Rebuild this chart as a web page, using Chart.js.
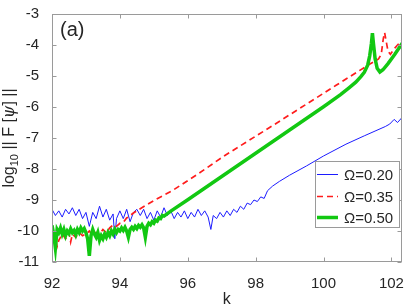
<!DOCTYPE html>
<html>
<head>
<meta charset="utf-8">
<script src="https://cdn.jsdelivr.net/npm/chart.js"></script>
<style>
  html, body { margin: 0; padding: 0; background: #fff; }
</style>
</head>
<body>
<canvas id="grafico" width="409" height="305"></canvas>
<script>
const contenedor = document.getElementById('grafico');

// Omega = 0.20 (azul)
const kAzul = [92.0, 92.1, 92.2, 92.3, 92.4, 92.5, 92.6, 92.7, 92.8, 92.9,
    93.0, 93.1, 93.2, 93.3, 93.4, 93.5, 93.6, 93.7, 93.8, 93.85, 93.9,
    94.0, 94.1, 94.2, 94.3, 94.4, 94.5, 94.6, 94.7, 94.8, 94.9,
    95.0, 95.1, 95.2, 95.3, 95.4, 95.5, 95.6, 95.7, 95.8, 95.9,
    96.0, 96.1, 96.2, 96.3, 96.4, 96.5, 96.6, 96.68, 96.75, 96.85, 96.95,
    97.05, 97.15, 97.25, 97.35, 97.45, 97.55, 97.65, 97.75, 97.85, 97.95,
    98.05, 98.15, 98.25, 98.35, 98.5, 98.7, 99.0, 99.5, 100.0, 100.66, 101.2, 101.82, 101.95, 102.08, 102.18, 102.32];
const vAzul = [-9.3, -9.5, -9.35, -9.55, -9.3, -9.45, -9.25, -9.5, -9.3, -9.6,
    -9.4, -9.85, -9.4, -9.6, -9.2, -9.55, -9.3, -9.65, -9.45, -10.25, -9.6,
    -9.35, -9.6, -9.3, -9.7, -9.4, -9.3, -9.5, -9.3, -9.6, -9.4,
    -9.65, -9.35, -9.55, -9.25, -9.5, -9.35, -9.6, -9.4, -9.55, -9.35,
    -9.6, -9.4, -9.55, -9.3, -9.5, -9.35, -9.55, -9.95, -9.5, -9.6, -9.4,
    -9.55, -9.35, -9.5, -9.3, -9.4, -9.2, -9.3, -9.1, -9.15, -9.0,
    -9.05, -8.9, -8.95, -8.7, -8.55, -8.4, -8.2, -7.9, -7.58, -7.2, -6.93, -6.63, -6.55, -6.4, -6.5, -6.33];

// Omega = 0.35 (rojo)
const kRojo = [92.0, 92.05, 92.1, 92.15, 92.2, 92.3, 92.4, 92.5, 92.55, 92.6, 92.7, 92.8, 92.9,
    93.0, 93.1, 93.2, 93.3, 93.4, 93.5, 93.6, 93.7, 93.8, 93.9,
    94.0, 94.1, 94.2, 94.3, 94.4, 94.5, 94.6, 95.08, 95.57, 96.3, 97.07, 98.53, 100.37,
    101.34, 101.62, 101.7, 101.76, 101.8, 101.84, 101.9, 101.97, 102.1, 102.36];
const vRojo = [-10.2, -9.95, -10.2, -10.5, -10.3, -10.1, -10.25, -10.05, -10.35, -10.1, -10.2, -10.05, -10.15,
    -10.1, -10.0, -10.15, -10.05, -10.1, -9.95, -10.05, -9.9, -9.8, -9.85,
    -9.75, -9.72, -9.58, -9.5, -9.42, -9.35, -9.28, -8.97, -8.68, -8.16, -7.58, -6.58, -5.3,
    -4.63, -4.45, -4.3, -3.8, -3.6, -3.85, -4.2, -4.3, -4.1, -3.78];

// Omega = 0.50 (verde)
const kVerde = [92.0, 92.05, 92.1, 92.15, 92.2, 92.25, 92.3, 92.35, 92.4, 92.45,
    92.5, 92.55, 92.6, 92.65, 92.7, 92.75, 92.8, 92.85, 92.9, 92.95,
    93.0, 93.05, 93.1, 93.15, 93.2, 93.25, 93.3, 93.35, 93.4, 93.45,
    93.5, 93.55, 93.6, 93.65, 93.7, 93.75, 93.8, 93.85, 93.9, 93.95,
    94.0, 94.05, 94.1, 94.15, 94.2, 94.25, 94.3, 94.35, 94.4, 94.45,
    94.5, 94.55, 94.6, 94.65, 94.7, 94.75, 94.8, 94.85, 94.9, 94.95,
    95.0, 95.05, 95.1, 95.15, 95.2, 95.25, 95.3,
    95.5, 96.0, 97.0, 98.0, 99.0, 100.0, 100.5, 100.75, 100.95, 101.1, 101.2,
    101.3, 101.36, 101.41, 101.44, 101.47, 101.52, 101.58, 101.66, 101.75, 101.9, 102.1, 102.36];
const vVerde = [-9.82, -10.1, -10.55, -9.95, -10.05, -9.9, -10.1, -9.95, -10.15, -10.0,
    -10.08, -9.93, -10.05, -9.98, -10.12, -9.95, -10.05, -9.9, -10.0, -9.92,
    -10.05, -10.25, -10.8, -10.15, -9.95, -10.1, -10.2, -10.05, -10.3, -10.15,
    -10.25, -10.1, -10.2, -10.05, -10.15, -10.0, -10.1, -9.95, -10.05, -9.95,
    -10.0, -9.9, -9.98, -9.88, -10.0, -10.2, -9.95, -9.88, -9.95, -9.85,
    -9.92, -9.82, -9.88, -9.8, -9.9, -10.2, -9.85, -9.75, -9.8, -9.7,
    -9.75, -9.65, -9.68, -9.58, -9.6, -9.5, -9.52,
    -9.36, -8.99, -8.24, -7.49, -6.74, -5.99, -5.6, -5.38, -5.2, -5.02, -4.88,
    -4.65, -4.35, -3.95, -3.62, -3.95, -4.45, -4.75, -4.87, -4.8, -4.6, -4.3, -3.88];

const etiquetas = ['Ω=0.20', 'Ω=0.35', 'Ω=0.50'];
const ticksK = [92, 94, 96, 98, 100, 102];
const ticksV = [-11, -10, -9, -8, -7, -6, -5, -4, -3];

const fuente = '"Liberation Sans", Arial, Helvetica, sans-serif';
const colorEje = '#9a9a9a';
const colorTexto = '#262626';

const puntos = (ks, vs) => ks.map((k, i) => ({ x: k, y: vs[i] }));

// marco, ticks hacia dentro, titulo del eje y, (a) y leyenda
const marco = {
    id: 'marco',
    afterDraw(chart) {
        const { ctx, chartArea: a } = chart;
        const x = chart.scales.x, y = chart.scales.y;
        const L = Math.round(a.left) + 0.5, R = Math.round(a.right) - 0.5;
        const T = Math.round(a.top) + 0.5, B = Math.round(a.bottom) - 0.5;
        ctx.save();
        ctx.strokeStyle = colorEje;
        ctx.lineWidth = 1;
        ctx.strokeRect(L, T, R - L, B - T);
        ctx.beginPath();
        ticksK.forEach(t => {
            const px = Math.round(x.getPixelForValue(t)) + 0.5;
            ctx.moveTo(px, B); ctx.lineTo(px, B - 4);
            ctx.moveTo(px, T); ctx.lineTo(px, T + 4);
        });
        ticksV.forEach(t => {
            const py = Math.round(y.getPixelForValue(t)) + 0.5;
            ctx.moveTo(L, py); ctx.lineTo(L + 4, py);
            ctx.moveTo(R, py); ctx.lineTo(R - 4, py);
        });
        ctx.stroke();

        // (a)
        ctx.fillStyle = colorTexto;
        ctx.font = '20px ' + fuente;
        ctx.textAlign = 'left';
        ctx.textBaseline = 'alphabetic';
        ctx.fillText('(a)', 60, 36);

        // k
        ctx.font = '16px ' + fuente;
        ctx.textAlign = 'center';
        ctx.fillText('k', (a.left + a.right) / 2, 304);

        // log10 || F [psi] ||
        const partes = [
            { t: 'log', f: '16px ' + fuente, dy: 0 },
            { t: '10', f: '11px ' + fuente, dy: 4 },
            { t: ' || F [', f: '16px ' + fuente, dy: 0 },
            { t: 'ψ', f: 'italic 16px "DejaVu Serif", serif', dy: 0 },
            { t: '] ||', f: '16px ' + fuente, dy: 0 }
        ];
        ctx.save();
        ctx.translate(14, (a.top + a.bottom) / 2);
        ctx.rotate(-Math.PI / 2);
        ctx.textAlign = 'left';
        let total = 0;
        partes.forEach(p => { ctx.font = p.f; p.w = ctx.measureText(p.t).width; total += p.w; });
        let cx = -total / 2;
        partes.forEach(p => { ctx.font = p.f; ctx.fillText(p.t, cx, p.dy); cx += p.w; });
        ctx.restore();

        // leyenda
        const lx = 315.5, ly = 161.5, lw = 84, lh = 66;
        ctx.fillStyle = '#fff';
        ctx.fillRect(lx, ly, lw, lh);
        ctx.strokeStyle = colorEje;
        ctx.strokeRect(lx, ly, lw, lh);
        const filas = [174.5, 196.5, 217.5];
        chart.data.datasets.forEach((ds, i) => {
            ctx.save();
            ctx.strokeStyle = ds.borderColor;
            ctx.lineWidth = ds.borderWidth;
            ctx.setLineDash(ds.borderDash || []);
            ctx.beginPath();
            ctx.moveTo(317, filas[i]);
            ctx.lineTo(338, filas[i]);
            ctx.stroke();
            ctx.restore();
            ctx.fillStyle = colorTexto;
            ctx.font = '15px ' + fuente;
            ctx.textAlign = 'left';
            ctx.textBaseline = 'middle';
            ctx.fillText(etiquetas[i], 344, filas[i] + 1);
        });
        ctx.restore();
    }
};

const miGrafico = new Chart(contenedor, {
    type: 'scatter',
    data: {
        datasets: [{
            label: etiquetas[0],
            data: puntos(kAzul, vAzul),
            borderColor: '#1c1cff',
            borderWidth: 1,
            order: 2
        }, {
            label: etiquetas[1],
            data: puntos(kRojo, vRojo),
            borderColor: '#ff1c1c',
            borderWidth: 1.7,
            borderDash: [6, 4],
            order: 1
        }, {
            label: etiquetas[2],
            data: puntos(kVerde, vVerde),
            borderColor: '#12c812',
            borderWidth: 3.5,
            order: 0
        }]
    },
    options: {
        responsive: false,
        animation: false,
        events: [],
        showLine: true,
        elements: { point: { radius: 0 }, line: { tension: 0 } },
        layout: { autoPadding: false, padding: { top: 5, right: 2, left: 0, bottom: 0 } },
        plugins: { legend: { display: false }, tooltip: { enabled: false } },
        scales: {
            x: {
                type: 'linear',
                min: 92,
                max: 102.3,
                grid: { display: false },
                border: { display: false },
                ticks: { stepSize: 2, includeBounds: false, padding: 5, color: colorTexto, font: { size: 15, family: fuente } },
                afterFit: s => { s.height = 43; }
            },
            y: {
                type: 'linear',
                min: -11,
                max: -3,
                grid: { display: false },
                border: { display: false },
                ticks: { stepSize: 1, padding: 5, color: colorTexto, font: { size: 15, family: fuente } },
                afterFit: s => { s.width = 52; }
            }
        }
    },
    plugins: [marco]
});
</script>
</body>
</html>
